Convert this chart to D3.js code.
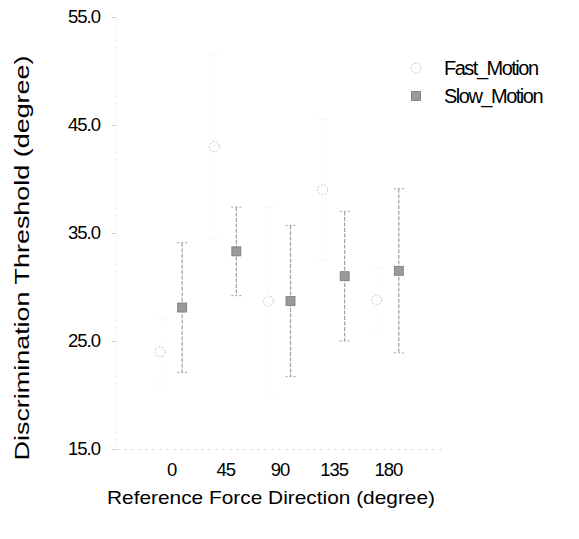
<!DOCTYPE html>
<html><head><meta charset="utf-8">
<script src="https://cdn.jsdelivr.net/npm/d3@7"></script>
<style>body{margin:0;background:#fff}svg{display:block}</style>
</head><body>
<svg id="c" width="579" height="539"></svg>
<script>
const categories = [0, 45, 90, 135, 180];
const fastValues = [24.0, 43.0, 28.7, 39.0, 28.8];
const fastErrors = [3.0, 8.5, 8.7, 6.5, 3.0];
const slowValues = [28.1, 33.3, 28.7, 31.0, 31.5];
const slowErrors = [6.0, 4.1, 7.0, 6.0, 7.6];
const yTicks = [15, 25, 35, 45, 55];
const seriesNames = ["Fast_Motion", "Slow_Motion"];

const svg = d3.select("#c");
const x = d3.scaleLinear().domain([-45, 225]).range([117, 442]);
const y = d3.scaleLinear().domain([15, 55]).range([449, 17]);
const off = 11;
const font = "'Liberation Sans', Arial, sans-serif";

// axes (faint dotted)
const yAxis = d3.axisLeft(y).tickValues(yTicks).tickFormat(d3.format(".1f")).tickSize(4).tickPadding(12);
const gy = svg.append("g").attr("transform", "translate(116,0)").call(yAxis);
gy.select(".domain").attr("stroke", "#d8d8d8").attr("stroke-dasharray", "1,6");
gy.selectAll(".tick line").attr("stroke", "#ccc");
gy.selectAll("text").attr("font-family", font).attr("font-size", 18.5).attr("fill", "#000").attr("letter-spacing", "-1px");

const xAxis = d3.axisBottom(x).tickValues(categories).tickSize(0).tickPadding(14);
const gx = svg.append("g").attr("transform", "translate(0,449)").call(xAxis);
gx.select(".domain").attr("stroke", "#d0d0d0").attr("stroke-dasharray", "2,5");
gx.selectAll("text").attr("font-family", font).attr("font-size", 18.5).attr("fill", "#000").attr("letter-spacing", "-1px");

// error bars
function errBars(vals, errs, dx, color, dash) {
  const g = svg.append("g");
  categories.forEach((c, i) => {
    const cx = x(c) + dx, top = y(vals[i] + errs[i]), bot = y(vals[i] - errs[i]);
    g.append("line").attr("x1", cx).attr("x2", cx).attr("y1", top).attr("y2", bot)
      .attr("stroke", color).attr("stroke-width", 1.2).attr("stroke-dasharray", dash);
    [top, bot].forEach(yy => g.append("line").attr("x1", cx - 5).attr("x2", cx + 5).attr("y1", yy).attr("y2", yy)
      .attr("stroke", color).attr("stroke-width", 1).attr("stroke-dasharray", "2,2"));
  });
}
errBars(fastValues, fastErrors, -off, "#f0f0f0", "1,5");
errBars(slowValues, slowErrors, off, "#a0a0a0", "4,1.5");

// fast circles
svg.append("g").selectAll("circle").data(fastValues).join("circle")
  .attr("cx", (d, i) => x(categories[i]) - off).attr("cy", d => y(d)).attr("r", 5)
  .attr("fill", "none").attr("stroke", "#c4c4c4").attr("stroke-width", 1).attr("stroke-dasharray", "2,1.5");

// slow squares
svg.append("g").selectAll("rect").data(slowValues).join("rect")
  .attr("x", (d, i) => x(categories[i]) + off - 4.5).attr("y", d => y(d) - 4.5)
  .attr("width", 9).attr("height", 9).attr("fill", "#9a9a9a").attr("stroke", "#777").attr("stroke-width", 0.8);

// legend
const lg = svg.append("g");
lg.append("circle").attr("cx", 416).attr("cy", 68).attr("r", 5).attr("fill", "none")
  .attr("stroke", "#c4c4c4").attr("stroke-dasharray", "2,1.5");
lg.append("rect").attr("x", 411.5).attr("y", 91.5).attr("width", 9).attr("height", 9)
  .attr("fill", "#9a9a9a").attr("stroke", "#777").attr("stroke-width", 0.8);
lg.selectAll("text").data(seriesNames).join("text")
  .attr("x", 444).attr("y", (d, i) => 75 + i * 28)
  .attr("font-family", font).attr("font-size", 20).attr("letter-spacing", "-1.5px").attr("fill", "#000")
  .text(d => d);

// titles
svg.append("text").attr("transform", "translate(29,258) rotate(-90)").attr("text-anchor", "middle")
  .attr("font-family", font).attr("font-size", 21).attr("fill", "#000")
  .attr("textLength", 405).attr("lengthAdjust", "spacingAndGlyphs")
  .text("Discrimination Threshold (degree)");
svg.append("text").attr("x", 271).attr("y", 504).attr("text-anchor", "middle")
  .attr("font-family", font).attr("font-size", 19).attr("fill", "#000")
  .attr("textLength", 328).attr("lengthAdjust", "spacingAndGlyphs")
  .text("Reference Force Direction (degree)");
</script>
</body></html>
